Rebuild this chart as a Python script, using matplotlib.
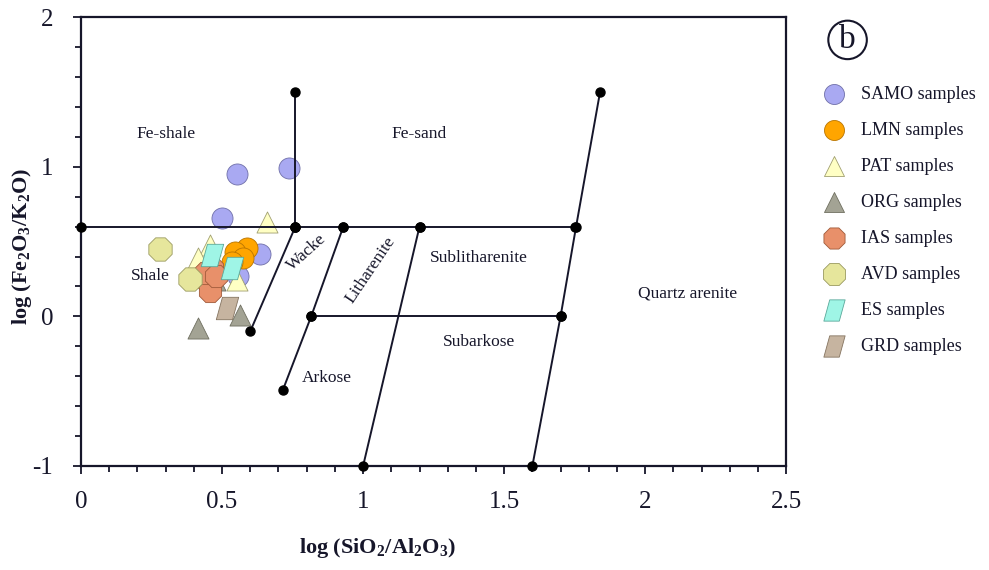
import matplotlib
matplotlib.use("Agg")
import matplotlib.pyplot as plt
import numpy as np
from matplotlib.path import Path

plt.rcParams['font.family'] = ['Liberation Serif', 'DejaVu Serif']
plt.rcParams['mathtext.fontset'] = 'custom'
plt.rcParams['mathtext.rm'] = 'Liberation Serif'
plt.rcParams['mathtext.bf'] = 'Liberation Serif:bold'
plt.rcParams['axes.unicode_minus'] = False

ink = '#16162a'

# classification boundaries (Herron 1988)
horiz_x = [0.0, 0.76, 0.93, 1.2, 1.75]
horiz_y = [0.6, 0.6, 0.6, 0.6, 0.6]
fe_x = [0.76, 0.76]
fe_y = [0.6, 1.5]
wacke_x = [0.76, 0.6]
wacke_y = [0.6, -0.1]
arkose_x = [0.93, 0.816, 0.716]
arkose_y = [0.6, 0.0, -0.49]
lith_x = [1.2, 1.0]
lith_y = [0.6, -1.0]
qtz_x = [1.84, 1.755, 1.70, 1.60]
qtz_y = [1.5, 0.6, 0.0, -1.0]
subark_x = [0.816, 1.70]
subark_y = [0.0, 0.0]

# sample data
samo_x = [0.553, 0.738, 0.50, 0.635, 0.557]
samo_y = [0.95, 0.99, 0.66, 0.42, 0.27]
lmn_x = [0.59, 0.546, 0.575, 0.535]
lmn_y = [0.46, 0.43, 0.39, 0.36]
pat_x = [0.66, 0.457, 0.553, 0.415]
pat_y = [0.63, 0.48, 0.24, 0.39]
org_x = [0.415, 0.564, 0.475]
org_y = [-0.08, 0.01, 0.24]
ias_x = [0.465, 0.45, 0.457, 0.44, 0.48]
ias_y = [0.32, 0.23, 0.17, 0.29, 0.27]
avd_x = [0.28, 0.387]
avd_y = [0.45, 0.25]
es_x = [0.465, 0.535]
es_y = [0.41, 0.32]
grd_x = [0.518]
grd_y = [0.053]

para = Path([(-1, -1), (0.45, -1), (1, 1), (-0.45, 1), (-1, -1)],
            [Path.MOVETO, Path.LINETO, Path.LINETO, Path.LINETO, Path.CLOSEPOLY])

fig = plt.figure(figsize=(9.89, 5.70), dpi=100)
ax = fig.add_axes([0.0819, 0.1825, 0.7131, 0.7875])

lkw = dict(color=ink, lw=1.4, marker='o', ms=6.5, mfc='black', mec='black', zorder=4, clip_on=False)
ax.plot(horiz_x, horiz_y, **lkw)
ax.plot(fe_x, fe_y, **lkw)
ax.plot(wacke_x, wacke_y, **lkw)
ax.plot(arkose_x, arkose_y, **lkw)
ax.plot(lith_x, lith_y, **lkw)
ax.plot(qtz_x, qtz_y, **lkw)
ax.plot(subark_x, subark_y, **lkw)

mk = dict(linewidths=0.6, zorder=3)
h = []
h.append(ax.scatter(samo_x, samo_y, s=230, marker='o', fc='#a9a9f2', ec='#6f6fa8', label='SAMO samples', **mk))
h.append(ax.scatter(lmn_x, lmn_y, s=230, marker='o', fc='#ffa500', ec='#b87400', label='LMN samples', **mk))
h.append(ax.scatter(pat_x, pat_y, s=230, marker='^', fc='#ffffc4', ec='#a09f70', label='PAT samples', **mk))
h.append(ax.scatter(org_x, org_y, s=230, marker='^', fc='#a3a394', ec='#6f6f60', label='ORG samples', **mk))
h.append(ax.scatter(ias_x, ias_y, s=300, marker='8', fc='#e8906a', ec='#a05a3a', label='IAS samples', **mk))
h.append(ax.scatter(avd_x, avd_y, s=330, marker='8', fc='#e6e69c', ec='#9a9a60', label='AVD samples', **mk))
h.append(ax.scatter(es_x, es_y, s=260, marker=para, fc='#9ff5e6', ec='#5aa89a', label='ES samples', **mk))
h.append(ax.scatter(grd_x, grd_y, s=260, marker=para, fc='#c6b4a0', ec='#857460', label='GRD samples', **mk))

tkw = dict(fontsize=12.5, color=ink, ha='center', va='center')
ax.text(0.30, 1.22, 'Fe-shale', **tkw)
ax.text(1.20, 1.22, 'Fe-sand', **tkw)
ax.text(0.245, 0.27, 'Shale', **tkw)
ax.text(0.80, 0.43, 'Wacke', rotation=42, **tkw)
ax.text(1.025, 0.31, 'Litharenite', rotation=56, **tkw)
ax.text(1.41, 0.39, 'Sublitharenite', **tkw)
ax.text(2.15, 0.15, 'Quartz arenite', **tkw)
ax.text(1.41, -0.17, 'Subarkose', **tkw)
ax.text(0.87, -0.41, 'Arkose', **tkw)

ax.set_xlim(0, 2.5)
ax.set_ylim(-1, 2)
ax.set_xticks([0, 0.5, 1, 1.5, 2, 2.5])
ax.set_xticklabels(['0', '0.5', '1', '1.5', '2', '2.5'])
ax.set_yticks([-1, 0, 1, 2])
ax.set_yticklabels(['-1', '0', '1', '2'])
ax.set_xticks(np.arange(0, 2.51, 0.1), minor=True)
ax.set_yticks(np.arange(-1, 2.01, 0.2), minor=True)
ax.tick_params(which='both', direction='out', color=ink, width=1.3, labelsize=18, labelcolor=ink)
ax.tick_params(which='major', length=6)
ax.tick_params(which='minor', length=4)
ax.tick_params(axis='x', pad=12)
ax.tick_params(axis='y', pad=14)
for s in ax.spines.values():
    s.set_color(ink)
    s.set_linewidth(1.6)

ax.set_xlabel(r'log (SiO$_\mathbf{2}$/Al$_\mathbf{2}$O$_\mathbf{3}$)', fontsize=16, fontweight='bold', color=ink, va='center')
ax.set_ylabel(r'log (Fe$_\mathbf{2}$O$_\mathbf{3}$/K$_\mathbf{2}$O)', fontsize=16, fontweight='bold', color=ink, va='center')
ax.xaxis.set_label_coords(0.42, -0.183)
ax.yaxis.set_label_coords(-0.084, 0.49)

fig.legend(handles=h, loc='upper left', bbox_to_anchor=(0.818, 0.862), frameon=False,
           fontsize=13, labelspacing=1.05, handletextpad=0.5, borderaxespad=0,
           markerscale=0.95, labelcolor=ink)

fig.text(0.857, 0.93, 'b', fontsize=24, ha='center', va='center', color=ink,
         bbox=dict(boxstyle='circle,pad=0.12', fc='white', ec=ink, lw=1.5))

fig.savefig('out.png', dpi=100)
